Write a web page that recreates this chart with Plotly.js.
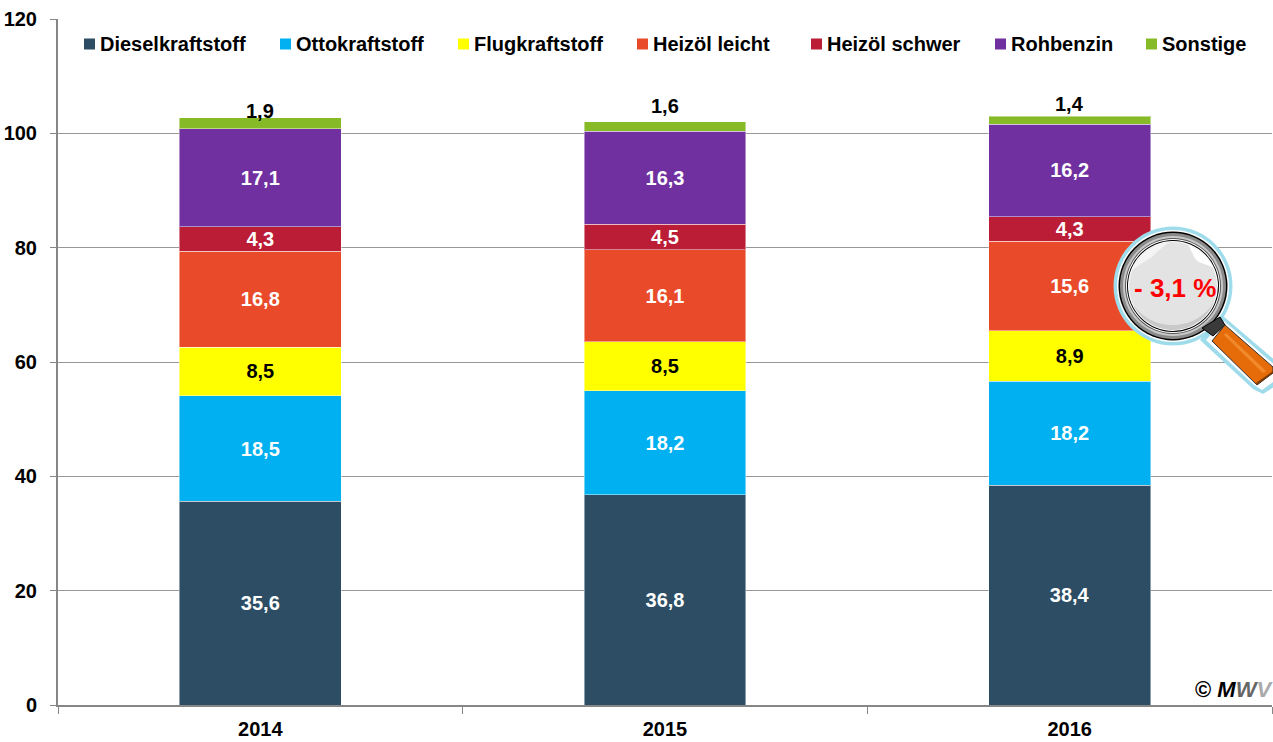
<!DOCTYPE html>
<html><head><meta charset="utf-8">
<script src="https://cdn.plot.ly/plotly-3.0.1.min.js"></script>
<style>html,body{margin:0;padding:0;background:#fff}</style></head>
<body><div id="c" style="width:1273px;height:742px"></div>
<script>
const years = ['2014','2015','2016'];
const seriesNames = ['Dieselkraftstoff','Ottokraftstoff','Flugkraftstoff','Heizöl leicht','Heizöl schwer','Rohbenzin','Sonstige'];
const diesel = [35.6,36.8,38.4];
const otto = [18.5,18.2,18.2];
const flug = [8.5,8.5,8.9];
const leicht = [16.8,16.1,15.6];
const schwer = [4.3,4.5,4.3];
const rohbenzin = [17.1,16.3,16.2];
const sonstige = [1.9,1.6,1.4];
const colors = ['#2C4D63','#00B0F0','#FFFF00','#E94B2A','#BB1C36','#7030A0','#86BA27'];
const labelColors = ['#fff','#fff','#000','#fff','#fff','#fff','#000'];
const legendX = [84,280,458,637,811,995,1146];
const topLabelShift = [3,12,8];
const allValues = [diesel,otto,flug,leicht,schwer,rohbenzin,sonstige];

const FONT = 'Liberation Sans, Arial, sans-serif';
const FS = 20;
const L=58,R=1272,T=19,B=705;
const px = x => (x-L)/(R-L), py = y => (B-y)/(B-T);
const fmt = v => v.toFixed(1).replace('.',',');

const traces = allValues.map((vals,i)=>({
  type:'bar', name:seriesNames[i], x:years, y:vals,
  marker:{color:colors[i], line:{color:'rgba(255,255,255,0.45)',width:1}},
  width:0.4,
  text: i<6 ? vals.map(fmt) : vals.map(()=>''),
  textposition: i<6 ? 'inside' : 'none',
  constraintext:'none',
  insidetextanchor:'middle', textangle:0,
  insidetextfont:{family:FONT,size:FS,color:labelColors[i],weight:700},
  hoverinfo:'x+y+name', showlegend:false
}));

function poly(pts,fill,line,lw){
  const p = pts.map((q,i)=>(i?'L':'M')+px(q[0]).toFixed(5)+','+py(q[1]).toFixed(5)).join(' ')+' Z';
  return {type:'path',xref:'paper',yref:'paper',layer:'above',path:p,fillcolor:fill,line:{color:line||fill,width:lw||0}};
}
function circle(cx,cy,r,fill,line,lw){
  return {type:'circle',xref:'paper',yref:'paper',layer:'above',
    x0:px(cx-r),x1:px(cx+r),y0:py(cy+r),y1:py(cy-r),fillcolor:fill,line:{color:line||fill,width:lw||0}};
}
function arcPts(cx,cy,r1,r2,a0,a1){
  const a=[],b=[];
  for(let k=0;k<=24;k++){
    const t=(a0+(a1-a0)*k/24)*Math.PI/180;
    a.push([cx+r1*Math.cos(t),cy+r1*Math.sin(t)]);
  }
  for(let k=24;k>=0;k--){
    const t=(a0+(a1-a0)*k/24)*Math.PI/180;
    const w=Math.sin(Math.PI*k/24);
    const r=r1-(r1-r2)*w;
    b.push([cx+r*Math.cos(t),cy+r*Math.sin(t)]);
  }
  return a.concat(b);
}
const cx=1173,cy=286;
const shapes=[
  poly([[1222,315],[1200,340],[1253,389],[1263,394],[1277,385],[1277,362]],'#9FDCEB'),
  circle(cx,cy,59.5,'#9FDCEB'),
  poly([[1224,321],[1206,340],[1254,385],[1262,390],[1277,379],[1277,367]],'#fff'),
  circle(cx,cy,56,'#fff'),
  circle(cx,cy,54.5,'#000'),
  circle(cx,cy,53,'#8a8a8a'),
  circle(cx,cy,50,'#c8c8c8'),
  circle(cx,cy,48,'#555'),
  circle(cx,cy,47,'#fff'),
  circle(cx,cy,46,'#000'),
  circle(cx,cy,45,'#fff'),
  circle(cx,cy,44,'#E3E3E3'),
  poly(arcPts(cx,cy,44,39,20,155),'#C9C9C9'),
  poly(arcPts(cx,cy,44,36,-160,-95),'#F4F4F4'),
  poly(arcPts(cx,cy,44,35,-70,-25),'#FFFFFF'),
  poly([[1202,328],[1220,317],[1225,325],[1213,336]],'#3a3a3a','#000',1),
  poly([[1225,325],[1212,341],[1257,385],[1273,373],[1273,367]],'#E66C0A','#333',1),
  poly([[1226,333],[1224,335],[1263,373],[1266,371]],'#F08A2C'),
  poly([[1256,383],[1257,385],[1273,373],[1273,371]],'#7A3A05')
];
const annotations=[];
// legend
seriesNames.forEach((n,i)=>{
  shapes.push({type:'rect',xref:'paper',yref:'paper',layer:'above',
    x0:px(legendX[i]),x1:px(legendX[i]+11),y0:py(49.5),y1:py(38.5),fillcolor:colors[i],line:{width:0}});
  annotations.push({xref:'paper',yref:'paper',x:px(legendX[i]+15),y:py(44),xanchor:'left',yanchor:'middle',
    text:'<b>'+n+'</b>',showarrow:false,borderpad:0,font:{family:FONT,size:FS,color:'#000'}});
});
// top labels
years.forEach((yr,j)=>{
  const total=allValues.reduce((s,a)=>s+a[j],0);
  annotations.push({x:j,y:total,yref:'y',xref:'x',xanchor:'center',yanchor:'bottom',yshift:topLabelShift[j]-8,
    text:'<b>'+fmt(sonstige[j])+'</b>',showarrow:false,borderpad:0,font:{family:FONT,size:FS,color:'#000'}});
});
annotations.push({xref:'paper',yref:'paper',x:px(1175),y:py(288),xanchor:'center',yanchor:'middle',text:'<b>- 3,1 %</b>',showarrow:false,borderpad:0,
  font:{family:FONT,size:26,color:'#FF0000'}});
annotations.push({xref:'paper',yref:'paper',x:px(1274),y:py(689),xanchor:'right',yanchor:'middle',showarrow:false,borderpad:0,
  text:'<b>©</b> <b><i>M<span style="color:#666">W</span><span style="color:#aaa">V</span></i></b>',
  font:{family:FONT,size:22,color:'#000'}});

const layout={
  width:1273,height:742,
  margin:{l:L,r:1273-R,t:T,b:742-B,pad:0},
  paper_bgcolor:'#fff',plot_bgcolor:'#fff',
  barmode:'stack',showlegend:false,
  font:{family:FONT,size:FS,color:'#000'},
  xaxis:{type:'category',categoryorder:'array',categoryarray:years,range:[-0.5,2.5],tickson:'boundaries',
    ticks:'outside',ticklen:7,tickcolor:'#868686',tickwidth:1,showline:true,linecolor:'#868686',linewidth:2,ticklabelstandoff:5,
    showgrid:false,tickfont:{family:FONT,size:FS,color:'#000',weight:700}},
  yaxis:{range:[0,120],dtick:20,tick0:0,ticks:'outside',ticklen:6,tickcolor:'#868686',tickwidth:1,ticklabelstandoff:9,
    showline:true,linecolor:'#868686',linewidth:2,showgrid:true,gridcolor:'#989898',gridwidth:1,zeroline:false,
    tickfont:{family:FONT,size:FS,color:'#000',weight:700}},
  shapes,annotations
};
Plotly.newPlot('c',traces,layout,{displayModeBar:false,responsive:false});
</script></body></html>
